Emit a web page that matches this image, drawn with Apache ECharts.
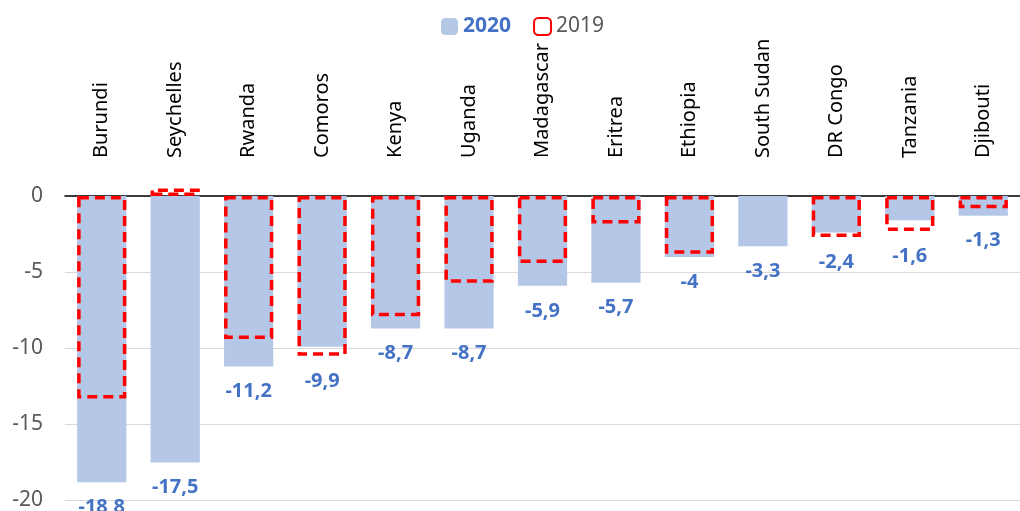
<!DOCTYPE html>
<html><head><meta charset="utf-8">
<script src="https://cdn.jsdelivr.net/npm/echarts@6/dist/echarts.min.js"></script>
<style>html,body{margin:0;padding:0;background:#fff}#c{width:1020px;height:511px}</style>
</head><body><div id="c"></div>
<script>
const categories = ['Burundi','Seychelles','Rwanda','Comoros','Kenya','Uganda','Madagascar','Eritrea','Ethiopia','South Sudan','DR Congo','Tanzania','Djibouti'];
const values2020 = [-18.8,-17.5,-11.2,-9.9,-8.7,-8.7,-5.9,-5.7,-4,-3.3,-2.4,-1.6,-1.3];
const values2019 = [-13.3,0.5,-9.4,-10.5,-7.9,-5.7,-4.4,-1.8,-3.8,null,-2.7,-2.3,-0.8];
const yTicks = {min:-20, max:0, interval:5};

const chart = echarts.init(document.getElementById('c'));
const fmt = v => String(v).replace('.', ',');
function build(offsets){
  return {
    animation:false,
    textStyle:{fontFamily:'Noto Sans'},
    legend:{
      top:11, left:436, itemWidth:17, itemHeight:17, itemGap:22,
      textStyle:{fontSize:21, fontFamily:'Noto Sans'},
      data:[
        {name:'2020', textStyle:{color:'#4472C4', fontWeight:'bold'}},
        {name:'2019', textStyle:{color:'#595959'}}
      ]
    },
    grid:{left:65, right:-10, top:196, bottom:7},
    xAxis:{
      type:'category', position:'top', data:categories,
      axisLine:{lineStyle:{color:'#000', width:1.5}},
      axisTick:{show:false},
      axisLabel:{rotate:90, margin:38, fontSize:20, color:'#000', fontFamily:'Noto Sans', interval:0}
    },
    yAxis:{
      type:'value', min:yTicks.min, max:yTicks.max, interval:yTicks.interval,
      axisLine:{show:false}, axisTick:{show:false},
      splitLine:{lineStyle:{color:'#d9d9d9', width:1}},
      axisLabel:{fontSize:21, color:'#595959', margin:22, fontFamily:'Noto Sans'}
    },
    series:[
      {
        name:'2020', type:'bar', data:values2020.map((v,i)=>({value:v, label:{offset:[0, offsets[i]]}})),
        barCategoryGap:'33%',
        itemStyle:{color:'#B4C7E7'},
        label:{show:true, position:'bottom', distance:15, color:'#4472C4', fontWeight:'bold', fontSize:20, fontFamily:'Noto Sans', formatter:p=>fmt(p.value)},
        z:2
      },
      {
        name:'2019', type:'bar', data:values2019, barGap:'-100%', clip:false,
        itemStyle:{color:'rgba(0,0,0,0)', borderColor:'#FF0000', borderWidth:3.5, borderType:[10,6]},
        z:3
      }
    ]
  };
}
chart.setOption(build(values2020.map(()=>0)));
const offsets = values2020.map((v,i)=>{
  const w = values2019[i];
  if (w == null || w >= v) return 0;
  const p1 = chart.convertToPixel({yAxisIndex:0}, v);
  const p2 = chart.convertToPixel({yAxisIndex:0}, w);
  return Math.max(0, p2 - p1);
});
chart.setOption(build(offsets));
</script>
</body></html>
